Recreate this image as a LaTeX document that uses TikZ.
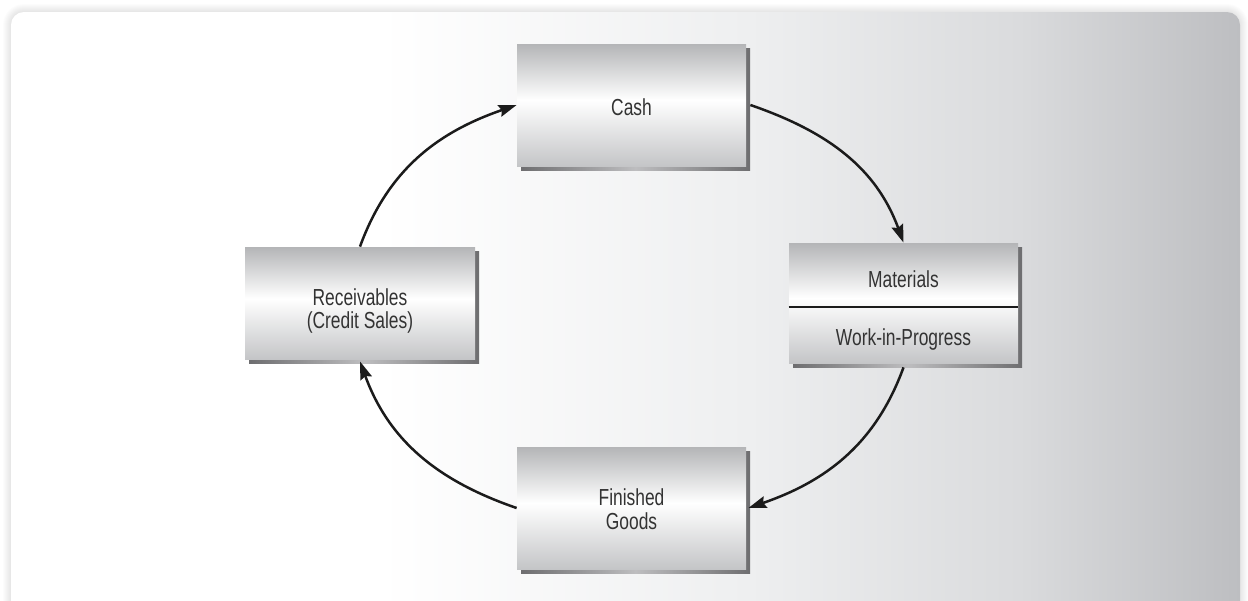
\documentclass[tikz,border=0pt]{standalone}
\usepackage{fontspec}
\setmainfont[FakeStretch=0.75]{Liberation Sans}
\usetikzlibrary{arrows.meta}

\definecolor{boxtop}{HTML}{B4B5B7}
\definecolor{boxbot}{HTML}{C4C5C7}
\definecolor{shadowdark}{HTML}{6E6E70}
\definecolor{shadowlight}{HTML}{BDBDBF}
\definecolor{textgray}{HTML}{333333}
\definecolor{arrowblack}{HTML}{1B1B1B}
\definecolor{panelmid}{HTML}{EEEFF0}
\definecolor{panelgray}{HTML}{DADBDD}
\definecolor{paneledge}{HTML}{BDBEC1}

% box fill: grey top, white band a little above the middle, grey bottom
\pgfdeclareverticalshading{cycleshade}{100bp}{color(0bp)=(boxbot); color(25bp)=(boxbot); color(52bp)=(white); color(75bp)=(boxtop); color(100bp)=(boxtop)}
% panel fill: white on the left, greying towards the right edge
\pgfdeclarehorizontalshading{panelshade}{100bp}{color(0bp)=(white); color(25bp)=(white); color(40bp)=(white); color(55bp)=(panelmid); color(66bp)=(panelgray); color(75bp)=(paneledge); color(100bp)=(paneledge)}

\begin{document}
\begin{tikzpicture}[x=0.5pt,y=-0.5pt,
  cyclebox/.style={rectangle, inner sep=0pt, shade, shading=cycleshade,
    minimum width=114.5pt, minimum height=61pt,
    preaction={left color=shadowdark, right color=shadowdark, middle color=shadowlight,
      transform canvas={shift={(2pt,-2pt)}}}},
  boxtext/.style={inner sep=0pt, text=textgray, font=\fontsize{11.6pt}{12pt}\selectfont,
    text height=8.3pt, text depth=0pt},
  twoline/.style={inner sep=0pt, text=textgray, font=\fontsize{11.6pt}{11.8pt}\selectfont, align=center},
  cyclearrow/.style={draw=arrowblack, line width=1.25pt,
    -{Stealth[length=9pt,width=6pt,inset=1.2pt]}},
  divider/.style={draw=arrowblack, line width=0.8pt}]

\useasboundingbox (0,0) rectangle (1248,600);

% soft shadow around the panel
\foreach \i in {1,...,8}
  \fill[black, opacity=0.012, rounded corners={6.5pt+0.5pt*\i}]
    (11-\i,12-\i) rectangle (1240+\i,640);

% panel
\shade[shading=panelshade, rounded corners=6.5pt] (11,12) rectangle (1240,640);

% boxes
\node[cyclebox] (cash) at (631.5,105) {};
\node[boxtext] (cashlabel) at (631.5,107) {Cash};

\node[cyclebox, minimum height=60pt] (mat) at (903.5,303) {};
\draw[divider] ([yshift=-2pt]mat.west) -- ([yshift=-2pt]mat.east);
\node[boxtext] (matlabel) at (903.5,279.5) {Materials};
\node[boxtext] (wiplabel) at (903.5,337) {Work-in-Progress};

\node[cyclebox, minimum width=115pt, minimum height=56pt] (rec) at (360,303) {};
\node[twoline] (reclabel) at (360,311) {Receivables\\(Credit Sales)};

\node[cyclebox] (fin) at (631.5,508) {};
\node[twoline] (finlabel) at (631.5,509) {Finished\\Goods};

% the cycle
\draw[cyclearrow] (rec.north) to[out=70,in=199] (cash.west);
\draw[cyclearrow] ([xshift=2pt]cash.east) to[out=-19,in=110] (mat.north);
\draw[cyclearrow] ([yshift=-2pt]mat.south) to[out=-110,in=19] ([xshift=1pt]fin.east);
\draw[cyclearrow] (fin.west) to[out=161,in=-70] ([yshift=-1pt]rec.south);
\end{tikzpicture}
\end{document}
